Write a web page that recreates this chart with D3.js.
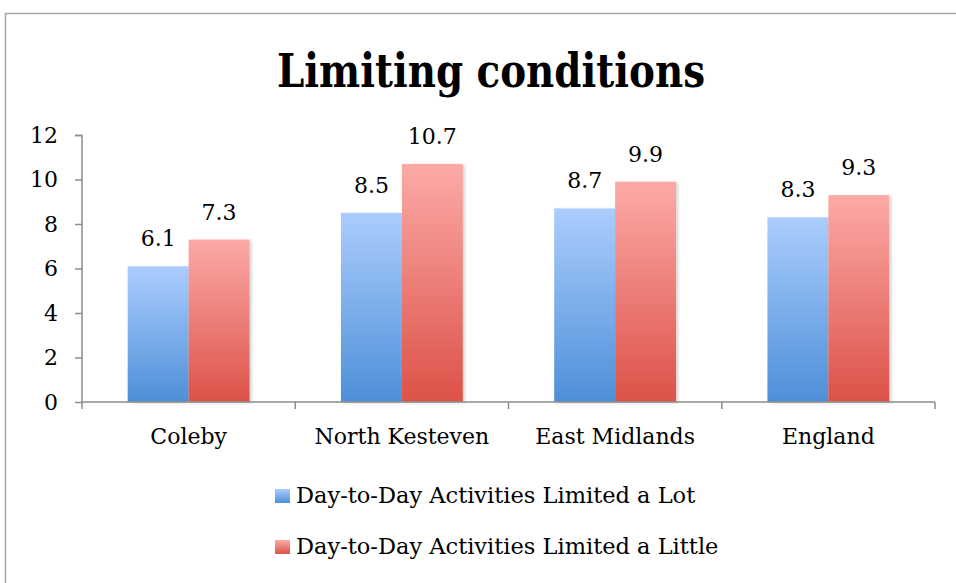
<!DOCTYPE html>
<html><head><meta charset="utf-8">
<script src="https://cdn.jsdelivr.net/npm/d3@7"></script>
<style>body{margin:0;background:#fff}svg{display:block}</style>
</head><body>
<svg id="c" width="956" height="583"></svg>
<script>
const categories = ["Coleby","North Kesteven","East Midlands","England"];
const seriesNames = ["Day-to-Day Activities Limited a Lot","Day-to-Day Activities Limited a Little"];
const limitedLot = [6.1, 8.5, 8.7, 8.3];
const limitedLittle = [7.3, 10.7, 9.9, 9.3];
const yTicks = [0,2,4,6,8,10,12];

const svg = d3.select("#c");
const serif = "'DejaVu Serif', serif";
const defs = svg.append("defs");
const grads = [["gBlue","#abcdfd","#4e8fd8"],["gRed","#fcaaa7","#dc5248"]];
grads.forEach(([id,a,b])=>{
  const g = defs.append("linearGradient").attr("id",id).attr("x1",0).attr("y1",0).attr("x2",0).attr("y2",1);
  g.append("stop").attr("offset","0%").attr("stop-color",a);
  g.append("stop").attr("offset","100%").attr("stop-color",b);
});
const f = defs.append("filter").attr("id","sh").attr("x","-10%").attr("y","-10%").attr("width","130%").attr("height","130%");
f.append("feDropShadow").attr("dx",2).attr("dy",1).attr("stdDeviation",1.5).attr("flood-color","#000").attr("flood-opacity",0.18);

// outer border
svg.append("rect").attr("x",5.5).attr("y",13.5).attr("width",1000).attr("height",1000)
  .attr("fill","#fff").attr("stroke","#a6a6a6").attr("stroke-width",1.5);

const title = svg.append("text").attr("x",491).attr("y",87).attr("text-anchor","middle")
  .attr("font-family","'DejaVu Serif Condensed', 'DejaVu Serif', serif").attr("font-weight","bold").attr("font-size",46)
  .text("Limiting conditions");
title.attr("textLength",428).attr("lengthAdjust","spacingAndGlyphs");

const x0 = d3.scaleBand().domain(categories).range([82,935]).paddingInner(0).paddingOuter(0);
const x1 = d3.scaleBand().domain([0,1]).range([0,x0.bandwidth()]).paddingOuter(0.75).paddingInner(0);
const y = d3.scaleLinear().domain([0,12]).range([402,135]);

const data = categories.map((c,i)=>({c, vals:[limitedLot[i], limitedLittle[i]]}));
const grp = svg.append("g");
data.forEach(d=>{
  d.vals.forEach((v,k)=>{
    grp.append("rect").attr("x",x0(d.c)+x1(k)).attr("y",y(v))
      .attr("width",x1.bandwidth()).attr("height",y(0)-y(v))
      .attr("fill",`url(#${k?"gRed":"gBlue"})`).attr("filter","url(#sh)");
    grp.append("text").attr("x",x0(d.c)+x1(k)+x1.bandwidth()/2).attr("y",y(v)-20)
      .attr("text-anchor","middle").attr("font-family",serif).attr("font-size",22)
      .attr("fill","#000").text(v.toFixed(1));
  });
});

// y axis
const ya = svg.append("g").attr("transform","translate(82,0)")
  .call(d3.axisLeft(y).tickValues(yTicks).tickSize(7).tickPadding(17).tickFormat(d3.format("d")));
ya.select(".domain").attr("stroke","#8c8c8c").attr("stroke-width",1.5).attr("d","M-7,135.5H0V402");
ya.selectAll(".tick line").attr("stroke","#8c8c8c").attr("stroke-width",1.5);
ya.selectAll(".tick text").attr("font-family",serif).attr("font-size",22).attr("fill","#000");

// x axis
const xa = svg.append("g").attr("transform","translate(0,402)")
  .call(d3.axisBottom(x0).tickSize(0).tickPadding(26));
xa.select(".domain").attr("stroke","#8c8c8c").attr("stroke-width",1.5).attr("d","M82,0H935");
xa.selectAll(".tick text").attr("font-family",serif).attr("font-size",22).attr("fill","#000");
const bounds = [82,...categories.map(c=>x0(c)+x0.bandwidth())];
xa.selectAll(".sep").data(bounds).join("line").attr("class","sep")
  .attr("x1",d=>d).attr("x2",d=>d).attr("y1",0).attr("y2",7)
  .attr("stroke","#8c8c8c").attr("stroke-width",1.5);

// legend
const lg = svg.append("g");
seriesNames.forEach((n,i)=>{
  const yy = 489 + i*51;
  lg.append("rect").attr("x",275).attr("y",yy).attr("width",15).attr("height",14)
    .attr("fill",`url(#${i?"gRed":"gBlue"})`);
  lg.append("text").attr("x",296).attr("y",yy+14).attr("font-family",serif).attr("font-size",22.5)
    .attr("fill","#000").text(n);
});
</script>
</body></html>
